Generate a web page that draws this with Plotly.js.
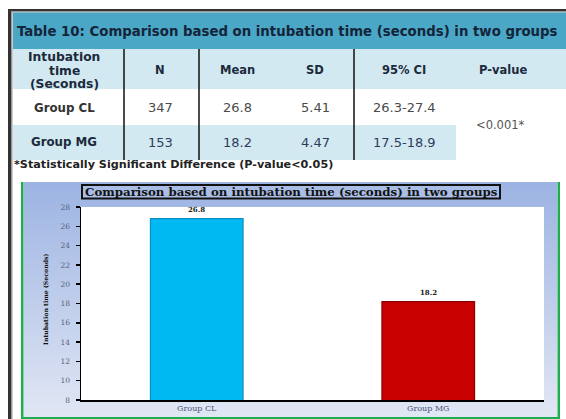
<!DOCTYPE html>
<html><head><meta charset="utf-8">
<script src="https://cdn.plot.ly/plotly-3.0.1.min.js"></script>
<style>html,body{margin:0;padding:0;background:#fff;}#chart{width:566px;height:419px;}</style>
</head><body><div id="chart"></div>
<script>
// ---- data ----
const tableTitle = "Table 10: Comparison based on intubation time (seconds) in two groups";
const headerFirstLines = ["Intubation", "time", "(Seconds)"];
const headerLabels = ["N", "Mean", "SD", "95% CI", "P-value"];
const groups = ["Group CL", "Group MG"];
const nValues = ["347", "153"];
const meanValues = ["26.8", "18.2"];
const sdValues = ["5.41", "4.47"];
const ciValues = ["26.3-27.4", "17.5-18.9"];
const pValue = "<0.001*";
const footnote = "*Statistically Significant Difference (P-value<0.05)";
const chartTitle = "Comparison based on intubation time (seconds) in two groups";
const yAxisTitle = "Intubation time (Seconds)";
const barCategories = ["Group CL", "Group MG"];
const barValues = [26.8, 18.2];
const yRange = [8, 28];

// ---- geometry helpers (pixel -> paper) ----
const PL = 81, PR = 544, PT = 207, PB = 400;
const fx = p => (p - PL) / (PR - PL);
const fy = p => (PB - p) / (PB - PT);
const esc = s => s.replace(/</g, "&lt;");
function rect(x0, y0, x1, y1, fill, layer, line) {
  return {type: 'rect', xref: 'paper', yref: 'paper', x0: fx(x0), x1: fx(x1), y0: fy(y1), y1: fy(y0),
    fillcolor: fill, line: line || {width: 0}, layer: layer || 'below'};
}
function vline(x, y0, y1, color, w) {
  return {type: 'line', xref: 'paper', yref: 'paper', x0: fx(x), x1: fx(x), y0: fy(y0), y1: fy(y1),
    line: {color: color, width: w}, layer: 'above'};
}
function ann(text, x, y, font, extra) {
  return Object.assign({text: esc(text), xref: 'paper', yref: 'paper', x: fx(x), y: fy(y),
    xanchor: 'center', yanchor: 'middle', showarrow: false, font: font}, extra || {});
}

const sansB = (size, color) => ({family: 'DejaVu Sans', size: size, color: color, weight: 'bold'});
const sans = (size, color) => ({family: 'DejaVu Sans', size: size, color: color});
const serifB = (size, color) => ({family: 'DejaVu Serif', size: size, color: color, weight: 'bold'});
const serif = (size, color) => ({family: 'DejaVu Serif', size: size, color: color});

const colX = [64, 160, 237, 315, 404, 503];
const headerY = 70;
const rowY = [108, 142];

const shapes = [
  // outer frame
  rect(8, 9, 566, 11, '#333333'),
  rect(8, 11, 566, 12.5, '#9a9a9a'),
  rect(8, 9, 11, 419, '#333333'),
  rect(11, 11, 12.5, 419, '#9a9a9a'),
  // table backgrounds
  rect(13, 12.5, 566, 49, '#4aa7c5'),
  rect(13, 49, 566, 89, '#d2e9f1'),
  rect(13, 125, 456, 160, '#d2e9f1'),
  // separators
  vline(124, 49, 160, '#111', 1.5),
  vline(199, 49, 160, '#111', 1.5),
  vline(354, 49, 160, '#111', 1.5),
  // chart panel
  rect(21, 182, 23.5, 419, '#1fae4f'),
  rect(557.5, 182, 560, 419, '#1fae4f'),
  rect(21, 417, 560, 419, '#1fae4f'),
  rect(PL, PT, PR, PB, '#ffffff'),
  // chart title box
  rect(82, 185, 500, 198.5, 'rgba(255,255,255,0.12)', 'above', {color: '#111', width: 2})
];

const gradSvg = '<svg xmlns="http://www.w3.org/2000/svg" width="10" height="100" preserveAspectRatio="none">' +
  '<defs><linearGradient id="g" x1="0" y1="0" x2="0" y2="1"><stop offset="0" stop-color="#9cb3e2"/>' +
  '<stop offset="1" stop-color="#e1e7f4"/></linearGradient></defs><rect width="10" height="100" fill="url(#g)"/></svg>';

const images = [{
  source: 'data:image/svg+xml;charset=utf-8,' + encodeURIComponent(gradSvg),
  xref: 'paper', yref: 'paper', x: fx(23.5), y: fy(182), sizex: fx(557.5) - fx(23.5), sizey: fy(182) - fy(417),
  xanchor: 'left', yanchor: 'top', sizing: 'stretch', layer: 'below'
}];

const annotations = [];
annotations.push(ann(tableTitle, 15, 31, sansB(13.3, '#14243a'), {xanchor: 'left'}));
headerFirstLines.forEach((t, i) => annotations.push(ann(t, colX[0], 57 + i * 13.5, sansB(12.3, '#1c2a3c'))));
headerLabels.forEach((t, i) => annotations.push(ann(t, colX[i + 1], headerY, sansB(11.5, '#1c2a3c'))));
groups.forEach((g, r) => {
  const c = r === 0 ? '#4a4a4a' : '#2f3c5c';
  annotations.push(ann(g, colX[0], rowY[r], sansB(11.8, r === 0 ? '#333' : '#1c2a3c')));
  annotations.push(ann(nValues[r], colX[1], rowY[r], sans(13, c)));
  annotations.push(ann(meanValues[r], colX[2], rowY[r], sans(13, c)));
  annotations.push(ann(sdValues[r], colX[3], rowY[r], sans(13, c)));
  annotations.push(ann(ciValues[r], colX[4], rowY[r], sans(13, c)));
});
annotations.push(ann(pValue, 500, 125, sans(11.5, '#555')));
annotations.push(ann(footnote, 12, 164, sansB(11.2, '#222'), {xanchor: 'left'}));
annotations.push(ann(chartTitle, 291, 192, serifB(11.8, '#111')));
annotations.push(ann(yAxisTitle, 45, 300, serifB(6.2, '#111'), {textangle: -90}));
// value labels above bars, positioned through the data scales
barCategories.forEach((c, i) => annotations.push({
  text: barValues[i].toFixed(1), xref: 'x', yref: 'y', x: c, y: barValues[i],
  xanchor: 'center', yanchor: 'bottom', yshift: 3, showarrow: false, font: serifB(7, '#222')
}));

const trace = {
  type: 'bar', x: barCategories, y: barValues,
  marker: {color: ['#00b9f3', '#c90000'], line: {color: ['#0c8fc2', '#8c0000'], width: 1.2}},
  hoverinfo: 'none'
};

const layout = {
  width: 566, height: 419,
  margin: {l: PL, r: 566 - PR, t: PT, b: 419 - PB, pad: 0},
  paper_bgcolor: '#ffffff', plot_bgcolor: 'rgba(0,0,0,0)',
  showlegend: false, bargap: 0.6,
  xaxis: {type: 'category', range: [-0.5, 1.5], showline: true, linecolor: '#000', linewidth: 1.5,
    ticks: '', showgrid: false, zeroline: false, tickfont: serif(8, '#4a5578'), fixedrange: true},
  yaxis: {range: yRange, dtick: 2, showline: true, linecolor: '#000', linewidth: 1.5,
    ticks: 'outside', ticklen: 4, tickwidth: 1.5, tickcolor: '#000', showgrid: false, zeroline: false,
    tickfont: serif(7.5, '#55607a'), ticklabelstandoff: 4, fixedrange: true},
  shapes: shapes, images: images, annotations: annotations
};

Plotly.newPlot('chart', [trace], layout, {displayModeBar: false, staticPlot: true});
</script>
</body></html>
